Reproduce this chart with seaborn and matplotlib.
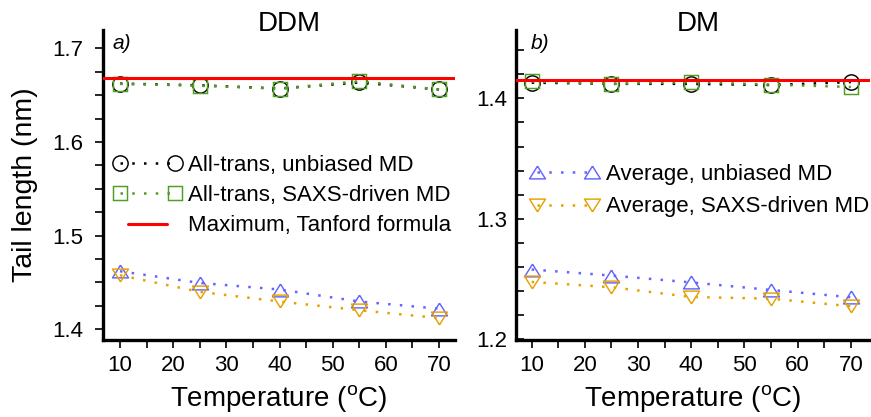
import matplotlib
matplotlib.use("Agg")
import matplotlib.pyplot as plt
import seaborn as sns
from matplotlib.ticker import MultipleLocator
from matplotlib.legend_handler import HandlerLine2D

# ---------------- data ----------------
temps = [10, 25, 40, 55, 70]

ddm_alltrans_unbiased = [1.6623, 1.6605, 1.6570, 1.6635, 1.6560]
ddm_alltrans_saxs = [1.6620, 1.6600, 1.6570, 1.6648, 1.6560]
ddm_avg_unbiased = [1.4620, 1.4495, 1.4425, 1.4297, 1.4220]
ddm_avg_saxs = [1.4577, 1.4400, 1.4297, 1.4204, 1.4120]
ddm_tanford = 1.668

dm_alltrans_unbiased = [1.4130, 1.4120, 1.4120, 1.4110, 1.4135]
dm_alltrans_saxs = [1.4140, 1.4120, 1.4135, 1.4114, 1.4094]
dm_avg_unbiased = [1.2579, 1.2529, 1.2472, 1.2409, 1.2349]
dm_avg_saxs = [1.2476, 1.2432, 1.2351, 1.2337, 1.2274]
dm_tanford = 1.415

panel_titles = ["DDM", "DM"]
panel_tags = ["a)", "b)"]
series_labels = ["All-trans, unbiased MD", "All-trans, SAXS-driven MD",
                 "Maximum, Tanford formula", "Average, unbiased MD",
                 "Average, SAXS-driven MD"]

# ---------------- style ----------------
sns.set_style("ticks", {"axes.edgecolor": "black", "text.color": "black",
                        "axes.labelcolor": "black", "xtick.color": "black",
                        "ytick.color": "black"})
plt.rcParams["font.family"] = ["Liberation Sans", "DejaVu Sans"]
plt.rcParams["mathtext.fontset"] = "custom"
plt.rcParams["mathtext.rm"] = "Liberation Sans"
plt.rcParams["mathtext.it"] = "Liberation Sans:italic"

C_BLACK = "#000000"
C_GREEN = "#4f9e22"
C_BLUE = "#6464ff"
C_ORANGE = "#e6a200"
C_RED = "#ff0000"

TRI_UP = [(0, 0.8), (-1, -0.8), (1, -0.8), (0, 0.8)]
TRI_DN = [(0, -0.8), (-1, 0.8), (1, 0.8), (0, -0.8)]
DOT = (0, (1, 3.7))

fig = plt.figure(figsize=(8.71, 4.17), dpi=100)
W, H = 871, 417


def axes_px(x0, x1, y0, y1):
    return fig.add_axes([x0 / W, (H - y1) / H, (x1 - x0) / W, (y1 - y0) / H])


axL = axes_px(103, 455, 30, 340)
axR = axes_px(516, 870, 30, 340)


def series(ax, y, color, marker, ms, label):
    sns.lineplot(x=temps, y=y, ax=ax, color=color, marker=marker,
                 markersize=ms, markerfacecolor="none",
                 markeredgecolor=color, markeredgewidth=1.05,
                 linestyle=DOT, linewidth=1.8, label=label)
    return ax.get_lines()[-1]


def build(ax, au, asx, vu, vs, tan):
    h1 = series(ax, au, C_BLACK, "o", 11, series_labels[0])
    h2 = series(ax, asx, C_GREEN, "s", 10.3, series_labels[1])
    h3 = ax.axhline(tan, color=C_RED, lw=2.2, label=series_labels[2], zorder=5)
    h4 = series(ax, vu, C_BLUE, TRI_UP, 11.5, series_labels[3])
    h5 = series(ax, vs, C_ORANGE, TRI_DN, 11.5, series_labels[4])
    return h1, h2, h3, h4, h5


hL = build(axL, ddm_alltrans_unbiased, ddm_alltrans_saxs, ddm_avg_unbiased,
           ddm_avg_saxs, ddm_tanford)
hR = build(axR, dm_alltrans_unbiased, dm_alltrans_saxs, dm_avg_unbiased,
           dm_avg_saxs, dm_tanford)

axL.set_xlim(6.8, 73.0)
axR.set_xlim(7.05, 73.6)
axL.set_ylim(1.3886, 1.7195)
axR.set_ylim(1.1994, 1.4567)

for ax in (axL, axR):
    sns.despine(ax=ax)
    for s in ("left", "bottom"):
        ax.spines[s].set_linewidth(2.4)
        ax.spines[s].set_color("black")
    ax.xaxis.set_major_locator(MultipleLocator(10))
    ax.xaxis.set_minor_locator(MultipleLocator(5))
    ax.tick_params(axis="both", which="both", labelsize=16, width=1.2,
                   length=5.5, color="black", labelcolor="black")
    ax.tick_params(axis="x", which="both", direction="out", pad=5)
    ax.set_xlabel("Temperature ($^\\mathrm{o}$C)", fontsize=20, labelpad=5,
                  color="black")
    ax.set_ylabel("")

axL.yaxis.set_major_locator(MultipleLocator(0.1))
axL.yaxis.set_minor_locator(MultipleLocator(0.025))
axL.tick_params(axis="y", which="both", direction="out", pad=9)
axR.yaxis.set_major_locator(MultipleLocator(0.1))
axR.yaxis.set_minor_locator(MultipleLocator(0.02))
axR.tick_params(axis="y", which="both", direction="in", pad=6.5)

axL.set_ylabel("Tail length (nm)", fontsize=20.5, labelpad=10, color="black")

axL.text(0.53, 0.997, panel_titles[0], transform=axL.transAxes, ha="center",
         va="baseline", fontsize=20, color="black")
axR.text(0.515, 0.997, panel_titles[1], transform=axR.transAxes, ha="center",
         va="baseline", fontsize=20, color="black")
axL.text(0.028, 0.958, panel_tags[0], transform=axL.transAxes, ha="left",
         va="center", fontsize=15, style="italic", color="black")
axR.text(0.042, 0.958, panel_tags[1], transform=axR.transAxes, ha="left",
         va="center", fontsize=15, style="italic", color="black")

legL = axL.legend(handles=list(hL[:3]), loc="upper left",
                  bbox_to_anchor=(0.028, 0.598), frameon=False, fontsize=16,
                  numpoints=2, handlelength=3.1, handletextpad=0.3,
                  labelspacing=0.42, borderpad=0, borderaxespad=0,
                  labelcolor="black",
                  handler_map={hL[2]: HandlerLine2D(marker_pad=0.68)})
legR = axR.legend(handles=list(hR[3:]), loc="upper left",
                  bbox_to_anchor=(0.040, 0.567), frameon=False, fontsize=16,
                  numpoints=2, handlelength=3.1, handletextpad=0.3,
                  labelspacing=0.5, borderpad=0, borderaxespad=0,
                  labelcolor="black")

fig.savefig("out.png", dpi=100)
